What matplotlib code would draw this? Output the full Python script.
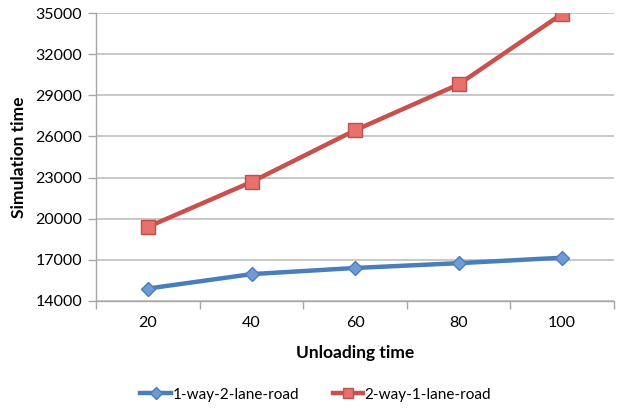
import matplotlib
matplotlib.use("Agg")
import matplotlib.pyplot as plt
import numpy as np

categories = ["20", "40", "60", "80", "100"]
one_way = [14900, 15950, 16400, 16750, 17150]
two_way = [19400, 22680, 26450, 29800, 34950]
yticks = [14000, 17000, 20000, 23000, 26000, 29000, 32000, 35000]

plt.rcParams['font.family'] = ['Lato', 'DejaVu Sans']

fig = plt.figure(figsize=(6.17, 4.11), dpi=100)
ax = fig.add_axes([0.156, 0.268, 0.839, 0.700])

x = np.arange(1, len(categories) + 1)
ax.plot(x, one_way, color='#4A7EBB', lw=3.2, marker='D', markersize=7.5,
        markerfacecolor='#6E9BD3', markeredgecolor='#4A7EBB', markeredgewidth=1,
        label='1-way-2-lane-road', zorder=3)
ax.plot(x, two_way, color='#C8504D', lw=3.2, marker='s', markersize=10,
        markerfacecolor='#E8706D', markeredgecolor='#C0504D', markeredgewidth=1,
        label='2-way-1-lane-road', zorder=3)

ax.set_xlim(0.5, len(categories) + 0.5)
ax.set_ylim(14000, 35000)
ax.set_yticks(yticks)
ax.set_yticklabels([str(v) for v in yticks], fontsize=11.5)
ax.set_xticks(x)
ax.set_xticklabels(categories, fontsize=11.5)
ax.tick_params(axis='x', length=0, pad=11)
ax.set_xticks(np.arange(0.5, len(categories) + 1.0, 1.0), minor=True)
ax.tick_params(axis='x', which='minor', length=6, color='#A6A6A6', width=1, direction='out')
ax.tick_params(axis='y', length=6, color='#A6A6A6', width=1, direction='out', pad=4)

ax.grid(axis='y', color='#BFBFBF', lw=1.2)
ax.set_axisbelow(True)
for s in ['top', 'right']:
    ax.spines[s].set_visible(False)
for s in ['left', 'bottom']:
    ax.spines[s].set_color('#A6A6A6')
    ax.spines[s].set_linewidth(1)

ax.set_xlabel('Unloading time', fontsize=12.5, fontweight='bold', labelpad=11)
ax.set_ylabel('Simulation time', fontsize=12.5, fontweight='bold', labelpad=6)

fig.legend(loc='center', bbox_to_anchor=(0.512, 0.04), ncol=2, frameon=False,
           fontsize=11, handlelength=2.0, columnspacing=2.2, handletextpad=0.1,
           markerscale=0.75)

fig.savefig('out.png', dpi=100)
